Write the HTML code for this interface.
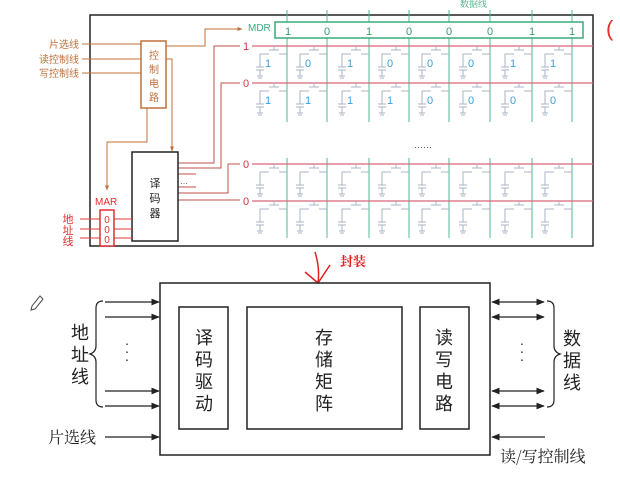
<!DOCTYPE html>
<html><head><meta charset="utf-8"><style>
html,body{margin:0;padding:0;background:#fff;}
svg{display:block;}
text{font-family:"Liberation Sans","Noto Sans CJK SC",sans-serif;}
.cj{font-family:"Noto Serif CJK SC","Noto Sans CJK SC",serif;}
</style></head><body>
<svg width="620" height="488" viewBox="0 0 620 488" xmlns="http://www.w3.org/2000/svg">
<defs>
<g id="cell" fill="none" stroke="#a9b3c6" stroke-width="1">
<path d="M-13,0V4 M-18,4H-8 M-27,18V8H-18 M-8,8H0 M-27,18V21 M-31,21H-23 M-31,24H-23 M-27,24V30 M-30,30H-24 M-29,32H-25"/>
</g>
<marker id="ah" viewBox="0 0 10 10" refX="9" refY="5" markerWidth="7" markerHeight="7" orient="auto-start-reverse"><path d="M0,1L10,5L0,9z" fill="#222"/></marker>
<marker id="ao" viewBox="0 0 10 10" refX="9" refY="5" markerWidth="5" markerHeight="5" orient="auto"><path d="M0,1L10,5L0,9z" fill="#c0703a"/></marker>
</defs>

<rect x="90" y="15" width="503" height="231" fill="none" stroke="#222" stroke-width="1.5"/>
<text x="460" y="7" font-size="9" fill="#3aaa7a" class="cj">数据线</text>
<text x="606" y="36" font-size="22" fill="#e03030">(</text>

<g stroke="#4fb892" stroke-width="1">
<path d="M287,10V122 M327,10V122 M369,10V122 M409,10V122 M449,10V122 M490,10V122 M532,10V122 M572,10V122"/>
<path d="M287,158V238 M327,158V238 M369,158V238 M409,158V238 M449,158V238 M490,158V238 M532,158V238 M572,158V238"/>
</g>
<rect x="275" y="22" width="308" height="16" fill="#fff" stroke="#3aaa7a" stroke-width="1.5"/>
<g font-size="11" fill="#3a9a6a" text-anchor="middle">
<text x="288" y="35">1</text><text x="327" y="35">0</text><text x="369" y="35">1</text><text x="409" y="35">0</text><text x="449" y="35">0</text><text x="490" y="35">0</text><text x="532" y="35">1</text><text x="572" y="35">1</text>
</g>
<text x="248" y="31" font-size="10" fill="#3aaa7a">MDR</text>

<g stroke="#d9667a" stroke-width="1.2">
<path d="M252,46H593 M252,83H593 M252,164H593 M252,201H593"/>
</g>
<g font-size="11" fill="#d93040" text-anchor="middle">
<text x="246" y="50">1</text><text x="246" y="87">0</text><text x="246" y="168">0</text><text x="246" y="205">0</text>
</g>
<text x="414" y="148" font-size="9" fill="#333">……</text>

<g>
<use href="#cell" x="287" y="46"/><use href="#cell" x="327" y="46"/><use href="#cell" x="369" y="46"/><use href="#cell" x="409" y="46"/><use href="#cell" x="449" y="46"/><use href="#cell" x="490" y="46"/><use href="#cell" x="532" y="46"/><use href="#cell" x="572" y="46"/>
<use href="#cell" x="287" y="83"/><use href="#cell" x="327" y="83"/><use href="#cell" x="369" y="83"/><use href="#cell" x="409" y="83"/><use href="#cell" x="449" y="83"/><use href="#cell" x="490" y="83"/><use href="#cell" x="532" y="83"/><use href="#cell" x="572" y="83"/>
<use href="#cell" x="287" y="164"/><use href="#cell" x="327" y="164"/><use href="#cell" x="369" y="164"/><use href="#cell" x="409" y="164"/><use href="#cell" x="449" y="164"/><use href="#cell" x="490" y="164"/><use href="#cell" x="532" y="164"/><use href="#cell" x="572" y="164"/>
<use href="#cell" x="287" y="201"/><use href="#cell" x="327" y="201"/><use href="#cell" x="369" y="201"/><use href="#cell" x="409" y="201"/><use href="#cell" x="449" y="201"/><use href="#cell" x="490" y="201"/><use href="#cell" x="532" y="201"/><use href="#cell" x="572" y="201"/>
</g>
<g font-size="11" fill="#3aa0d8">
<text x="265" y="67">1</text><text x="305" y="67">0</text><text x="347" y="67">1</text><text x="387" y="67">0</text><text x="427" y="67">0</text><text x="468" y="67">0</text><text x="510" y="67">1</text><text x="550" y="67">1</text>
<text x="265" y="104">1</text><text x="305" y="104">1</text><text x="347" y="104">1</text><text x="387" y="104">1</text><text x="427" y="104">0</text><text x="468" y="104">0</text><text x="510" y="104">0</text><text x="550" y="104">0</text>
</g>

<g font-size="10" fill="#c0703a" text-anchor="end" class="cj">
<text x="79" y="48">片选线</text><text x="79" y="63">读控制线</text><text x="79" y="77">写控制线</text>
</g>
<g stroke="#c0703a" stroke-width="1" fill="none">
<path d="M82,44H141 M82,59H141 M82,73H141"/>
<path d="M166,46H205V29H242" marker-end="url(#ao)"/>
<path d="M166,59H172V151" marker-end="url(#ao)"/>
<path d="M147,108V142H107V190" marker-end="url(#ao)"/>
</g>
<rect x="141" y="41" width="25" height="67" fill="#fff" stroke="#c0703a" stroke-width="1.5"/>
<g font-size="10" fill="#c0703a" text-anchor="middle" class="cj">
<text x="154" y="59">控</text><text x="154" y="73">制</text><text x="154" y="87">电</text><text x="154" y="101">路</text>
</g>

<g stroke="#c0504a" stroke-width="1" fill="none">
<path d="M178,163H214V46H240 M178,168H221V83H240 M178,174H196 M178,187H196 M178,193H228V164H240 M178,200H240"/>
</g>
<text x="180" y="184" font-size="8" fill="#333">…</text>
<rect x="132" y="152" width="46" height="89" fill="#fff" stroke="#222" stroke-width="1.5"/>
<g font-size="11" fill="#222" text-anchor="middle" class="cj">
<text x="155" y="187">译</text><text x="155" y="202">码</text><text x="155" y="217">器</text>
</g>

<text x="95" y="205" font-size="10" fill="#e03030">MAR</text>
<g stroke="#e03a3a" stroke-width="1"><path d="M80,219H132 M80,229H132 M80,238H132"/></g>
<rect x="100" y="210" width="14" height="36" fill="#fff" stroke="#e03030" stroke-width="1.5"/>
<g font-size="10" fill="#e03030" text-anchor="middle">
<text x="107" y="223">0</text><text x="107" y="233">0</text><text x="107" y="243">0</text>
</g>
<g font-size="11" fill="#e03030" text-anchor="middle" class="cj">
<text x="68" y="223">地</text><text x="68" y="234">址</text><text x="68" y="245">线</text>
</g>

<path d="M315,252Q320,268 318,283 M305,272L318,283L330,265" fill="none" stroke="#e02020" stroke-width="1.5"/>
<text x="340" y="266" font-size="13" font-weight="bold" fill="#e02020" class="cj">封装</text>

<path d="M32,306L40,296L43,299L35,309L31,310Z" fill="none" stroke="#444" stroke-width="1"/>

<rect x="160" y="283" width="330" height="172" fill="none" stroke="#222" stroke-width="1.5"/>
<rect x="179" y="307" width="49" height="122" fill="none" stroke="#222" stroke-width="1.5"/>
<rect x="247" y="307" width="155" height="122" fill="none" stroke="#222" stroke-width="1.5"/>
<rect x="420" y="307" width="49" height="122" fill="none" stroke="#222" stroke-width="1.5"/>
<g font-size="18" fill="#222" text-anchor="middle" class="cj">
<text x="204" y="344">译</text><text x="204" y="366">码</text><text x="204" y="388">驱</text><text x="204" y="410">动</text>
<text x="324" y="344">存</text><text x="324" y="366">储</text><text x="324" y="388">矩</text><text x="324" y="410">阵</text>
<text x="444" y="344">读</text><text x="444" y="366">写</text><text x="444" y="388">电</text><text x="444" y="410">路</text>
<text x="80" y="339">地</text><text x="80" y="361">址</text><text x="80" y="383">线</text>
<text x="572" y="345">数</text><text x="572" y="367">据</text><text x="572" y="389">线</text>
</g>
<g stroke="#222" stroke-width="1.2" fill="none">
<path d="M105,302H159" marker-end="url(#ah)"/>
<path d="M105,317H159" marker-end="url(#ah)"/>
<path d="M105,391H159" marker-end="url(#ah)"/>
<path d="M105,406H159" marker-end="url(#ah)"/>
<path d="M105,437H159" marker-end="url(#ah)"/>
<path d="M492,302H544" marker-start="url(#ah)" marker-end="url(#ah)"/>
<path d="M492,317H544" marker-start="url(#ah)" marker-end="url(#ah)"/>
<path d="M492,391H544" marker-start="url(#ah)" marker-end="url(#ah)"/>
<path d="M492,406H544" marker-start="url(#ah)" marker-end="url(#ah)"/>
<path d="M545,437H492" marker-end="url(#ah)"/>
<path d="M103,301Q96,301 96,308V346Q96,352 90,354Q96,356 96,362V400Q96,407 103,407"/>
<path d="M547,301Q554,301 554,308V346Q554,352 560,354Q554,356 554,362V400Q554,407 547,407"/>
</g>
<g font-size="14" fill="#222" text-anchor="middle"><text x="127" y="348">·</text><text x="127" y="356">·</text><text x="127" y="364">·</text>
<text x="522" y="348">·</text><text x="522" y="356">·</text><text x="522" y="364">·</text></g>
<text x="48" y="443" font-size="16" fill="#222" class="cj">片选线</text>
<text x="500" y="462" font-size="16" fill="#222" class="cj">读/写控制线</text>
</svg>
</body></html>
